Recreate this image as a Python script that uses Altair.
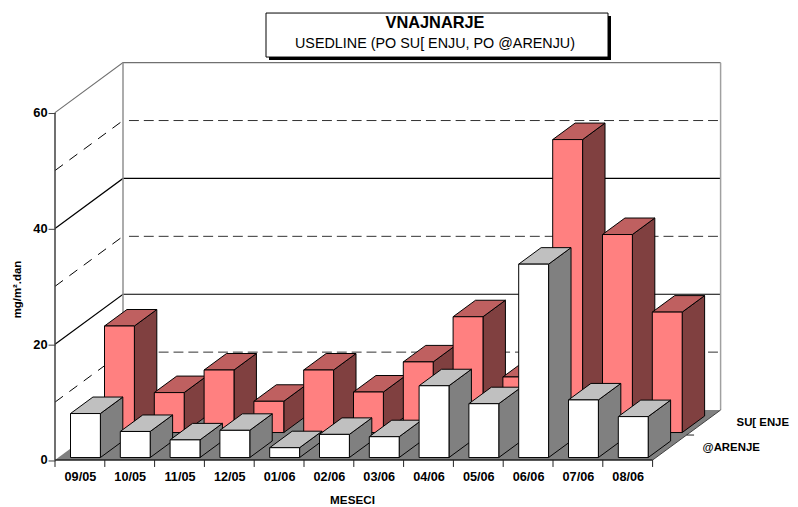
import altair as alt
import pandas as pd

months = ["09/05","10/05","11/05","12/05","01/06","02/06","03/06","04/06","05/06","06/06","07/06","08/06"]
zarenje = [7.6,4.5,3.05,4.7,1.7,4.0,3.6,12.4,9.3,33.4,9.95,7.07]
susenje = [18.4,6.9,10.8,5.4,10.8,7.0,12.2,20.0,9.6,50.6,34.2,20.8]
y_ticks = [0,20,40,60]
solid_levels = [20,40]
dashed_levels = [10,30,50]
title_main = "VNAJNARJE"
title_sub = "USEDLINE (PO SU[ ENJU, PO @ARENJU)"
row_labels = ["@ARENJE","SU[ ENJE"]
x_title = "MESECI"
y_title = "mg/m².dan"

FONT = "Liberation Sans"
S = 790/782                 # the page fits the drawing into 782 px
UX, UY = 49.8, 5.79         # pixels per category / per value
DX, DY = 68.0, 50.0         # pixels of the full depth
W, H = 665*S, 396.5*S
xdom = [0, 665/UX]
ydom = [0, 396.5/UY]
BAR_W, BAR_D = 0.6, 0.33
BAR_U = 0.243

def px(u, d): return u + d*DX/UX
def py(v, d): return v + d*DY/UY

n = len(months)
xs = alt.Scale(domain=xdom, nice=False, zero=False)
ys = alt.Scale(domain=ydom, nice=False, zero=False)
X = alt.X("x:Q", scale=xs, title=x_title, axis=alt.Axis(
        values=[i+0.5 for i in range(n)], labelExpr="%s[round(datum.value-0.5)]" % (str(months)),
        domain=False, ticks=False, grid=False, labelFont=FONT, labelFontWeight="bold", labelFontSize=12.8,
        labelColor="black", labelPadding=11, labelOverlap=False, labelFlush=False,
        titleFont=FONT, titleFontWeight="bold", titleFontSize=11.8, titleColor="black",
        titleX=297*S, titleY=35*S))
Y = alt.Y("y:Q", scale=ys, title=y_title, axis=alt.Axis(
        values=y_ticks, domain=False, grid=False, tickColor="#404040", tickSize=7, tickWidth=1,
        labelFont=FONT, labelFontWeight="bold", labelFontSize=13, labelColor="black", labelPadding=1,
        titleFont=FONT, titleFontWeight="bold", titleFontSize=11.5, titleColor="black",
        titleX=-33*S, titleY=225.5*S))
X2 = alt.X2("x2:Q")
Y2 = alt.Y2("y2:Q")

def seg(rows, **style):
    df = pd.DataFrame(rows, columns=["id","x","y"])
    df["o"] = range(len(df))
    return alt.Chart(df).mark_line(**style).encode(x=X, y=Y, detail="id:N", order="o:Q")

def faces(values, d0, front, side, top):
    fr, si, to = [], [], []
    for i, v in enumerate(values):
        u0, u1 = i+BAR_U, i+BAR_U+BAR_W
        d1 = d0+BAR_D
        fr.append(dict(x=px(u0,d0), x2=px(u1,d0), y=py(0,d0), y2=py(v,d0)))
        si += [dict(id=i, x=px(u1,d0), y=py(0,d0), y2=py(v,d0)),
               dict(id=i, x=px(u1,d1), y=py(0,d1), y2=py(v,d1))]
        to += [dict(id=i, y=py(v,d0), x=px(u0,d0), x2=px(u1,d0)),
               dict(id=i, y=py(v,d1), x=px(u0,d1), x2=px(u1,d1))]
    s = dict(stroke="black", strokeWidth=1, opacity=1)
    return [
        alt.Chart(pd.DataFrame(si)).mark_area(fill=side, orient="vertical", **s).encode(x=X, y=Y, y2=Y2, detail="id:N"),
        alt.Chart(pd.DataFrame(to)).mark_area(fill=top, orient="horizontal", **s).encode(y=Y, x=X, x2=X2, detail="id:N"),
        alt.Chart(pd.DataFrame(fr)).mark_rect(fill=front, **s).encode(x=X, x2=X2, y=Y, y2=Y2),
    ]

floor = alt.Chart(pd.DataFrame([
    dict(y=py(0,0), x=px(0,0), x2=px(n,0)),
    dict(y=py(0,1), x=px(0,1), x2=px(n,1)),
])).mark_area(fill="#808080", orient="horizontal").encode(y=Y, x=X, x2=X2)

wall_solid, wall_dash, back_dash = [], [], []
for lv in solid_levels:
    wall_solid += [(f"l{lv}", px(0,0), py(lv,0)), (f"l{lv}", px(0,1), py(lv,1)), (f"l{lv}", px(n,1), py(lv,1))]
for lv in dashed_levels:
    wall_dash += [(f"l{lv}", px(0,0), py(lv,0)), (f"l{lv}", px(0,1), py(lv,1))]
    back_dash += [(f"b{lv}", px(0.12,1), py(lv,1)), (f"b{lv}", px(n,1), py(lv,1))]
top_edge = [("t", px(0,0), py(60,0)), ("t", px(0,1), py(60,1)), ("t", px(n,1), py(60,1))]

def vline(u, d, lo, hi, color, w):
    return alt.Chart(pd.DataFrame([dict(x=px(u,d), y=py(lo,d), y2=py(hi,d))])).mark_rule(color=color, strokeWidth=w).encode(x=X, y=Y, y2=Y2)

def hline(u0, u1, d, color, w):
    return alt.Chart(pd.DataFrame([dict(x=px(u0,d), x2=px(u1,d), y=py(0,d))])).mark_rule(color=color, strokeWidth=w).encode(x=X, x2=X2, y=Y)

xticks = alt.Chart(pd.DataFrame(dict(x=[float(i) for i in range(n+1)]))).mark_rule(color="#202020").encode(
    x=X, y=alt.value(H), y2=alt.value(H+7))

dtick = alt.Chart(pd.DataFrame([dict(x=px(n,0.5), x2=px(n+0.15,0.5), y=py(0,0.5))])).mark_rule(color="#202020").encode(x=X, x2=X2, y=Y)

row_text = alt.Chart(pd.DataFrame(dict(
    x=[px(n,0.22), px(n,0.72)], y=[py(0,0.22), py(0,0.72)], t=row_labels))).mark_text(
    align="left", baseline="middle", dx=35*S, dy=-1.5, font=FONT, fontWeight="bold", fontSize=11.5, color="black").encode(
    x=X, y=Y, text="t:N")

def box(x, x2, y, y2, **kw):
    return alt.Chart(pd.DataFrame(dict(a=[0]))).mark_rect(**kw).encode(
        x=alt.value(x*S), x2=alt.value(x2*S), y=alt.value(y*S), y2=alt.value(y2*S))

def label(t, x, y, **kw):
    return alt.Chart(pd.DataFrame(dict(t=[t]))).mark_text(font=FONT, align="center", baseline="middle", color="black", **kw).encode(
        x=alt.value(x*S), y=alt.value(y*S), text="t:N")

layers = [
    floor,
    seg(top_edge, color="#707070", strokeWidth=1.2),
    seg(wall_solid, color="black", strokeWidth=1.2),
    seg(wall_dash, color="black", strokeWidth=1, strokeDash=[10,8]),
    seg(back_dash, color="#303030", strokeWidth=1, strokeDash=[10,5]),
    vline(0,1,0,60,"#909090",1.5),
    vline(n,1,0,60,"#a0a0a0",1.5),
    *faces(susenje, 0.55, "#FF8080", "#804040", "#BF6060"),
    *faces(zarenje, 0.05, "#FFFFFF", "#808080", "#C0C0C0"),
    hline(0,n,0,"#202020",1.5),
    vline(0,0,0,60,"#404040",1.5),
    seg([("f", px(n,0), py(0,0)), ("f", px(n,1), py(0,1))], color="#404040", strokeWidth=1),
    xticks, dtick, row_text,
    box(214,556,-47.5,-3.5, fill="black"),
    box(211,553,-50.5,-6.5, fill="white", stroke="black", strokeWidth=1),
    label(title_main, 380, -40.5, fontSize=16.5, fontWeight="bold"),
    label(title_sub, 380, -19.5, fontSize=14.5),
]

chart = alt.layer(*layers).properties(
    width=W, height=H,
    padding=dict(left=47*S, top=53*S, right=790-W-47*S, bottom=47.5*S),
    autosize=alt.AutoSizeParams(type="none"),
).configure_view(stroke=None)

chart.save("out.html", embed_options={"renderer": "svg", "actions": False})
